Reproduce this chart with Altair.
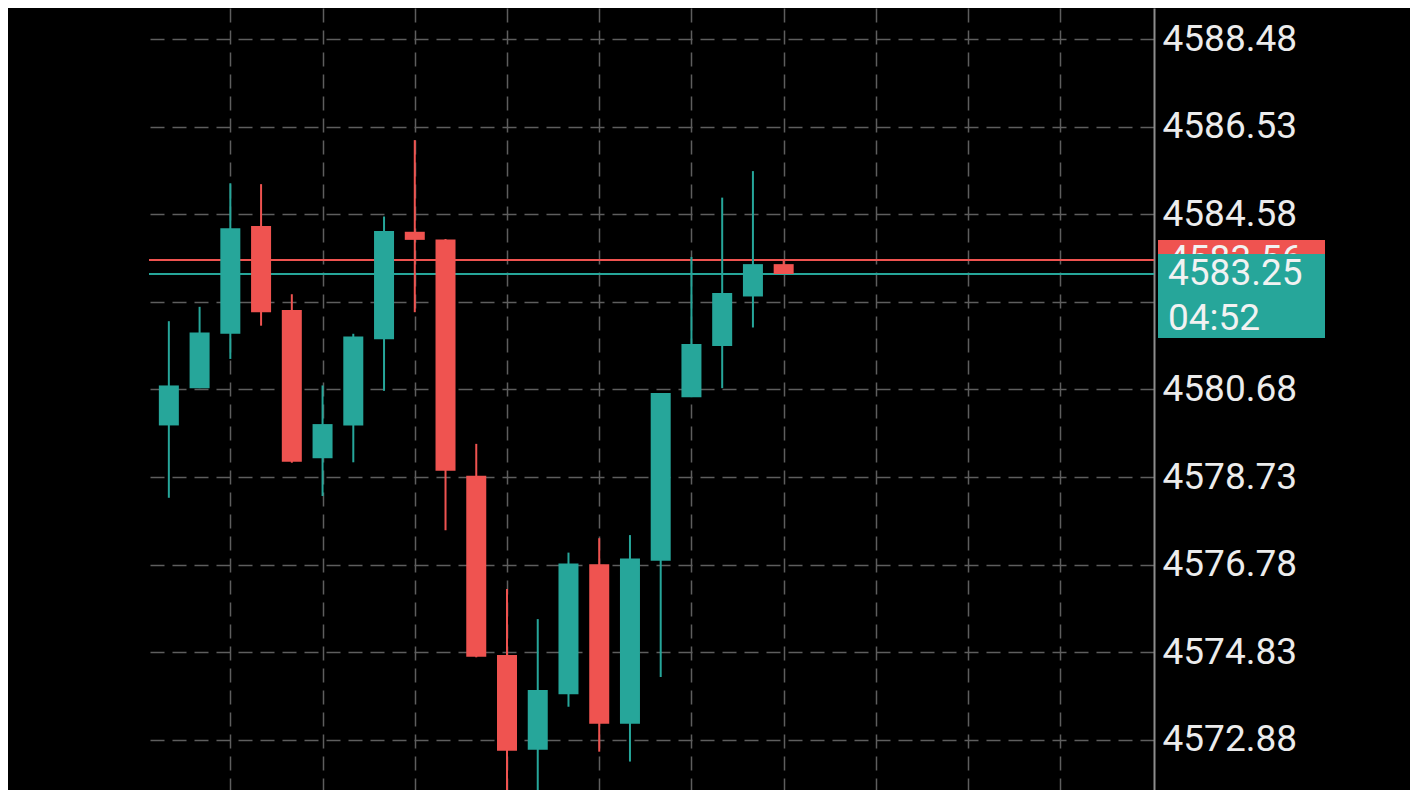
import altair as alt
import pandas as pd

# OHLC, one entry per candle (oldest first)
opens = [4579.88, 4580.71, 4581.92, 4584.32, 4582.45, 4579.15, 4579.88, 4581.80, 4584.19, 4584.02, 4578.76,
         4574.77, 4572.66, 4573.90, 4576.79, 4573.24, 4576.87, 4580.51, 4581.65, 4582.75, 4583.47]
highs = [4582.20, 4582.52, 4585.27, 4585.25, 4582.80, 4580.77, 4581.92, 4584.53, 4586.23, 4584.03, 4579.47,
         4576.24, 4575.57, 4577.05, 4577.37, 4577.44, 4580.60, 4583.63, 4584.95, 4585.54, 4583.58]
lows = [4578.27, 4580.71, 4581.36, 4582.10, 4579.05, 4578.31, 4579.06, 4580.65, 4582.40, 4577.55, 4574.72,
        4571.66, 4571.69, 4573.62, 4572.62, 4572.40, 4574.28, 4580.51, 4580.71, 4582.06, 4583.25]
closes = [4580.77, 4581.95, 4584.27, 4582.40, 4579.07, 4579.91, 4581.86, 4584.21, 4584.01, 4578.87, 4574.73,
          4572.64, 4573.99, 4576.81, 4573.24, 4576.92, 4580.60, 4581.69, 4582.83, 4583.47, 4583.25]

price_ticks = [4572.88, 4574.83, 4576.78, 4578.73, 4580.68, 4582.63, 4584.58, 4586.53, 4588.48]
time_grid = [2, 5, 8, 11, 14, 17, 20, 23, 26, 29]

bid = 4583.25
ask = 4583.56
countdown = "04:52"

UP = "#26a69a"
DOWN = "#ef5350"

candles = pd.DataFrame(
    {"bar": range(len(opens)), "open": opens, "high": highs, "low": lows, "close": closes}
)

x_scale = alt.Scale(domain=[-0.483, 31.884], nice=False, zero=False)
y_scale = alt.Scale(domain=[4571.767, 4589.170], nice=False, zero=False)
candle_color = alt.condition("datum.close >= datum.open", alt.value(UP), alt.value(DOWN))

quotes = pd.DataFrame({"price": [ask, bid], "kind": ["ask", "bid"]})
lines = (
    alt.Chart(quotes)
    .mark_rule(strokeWidth=2)
    .encode(
        y=alt.Y(
            "price:Q",
            scale=y_scale,
            title=None,
            axis=alt.Axis(orient="right", values=price_ticks, format=".2f", labelOverlap=False),
        ),
        color=alt.Color("kind:N", scale=alt.Scale(domain=["ask", "bid"], range=[DOWN, UP]), legend=None),
    )
)

base = alt.Chart(candles).encode(
    x=alt.X(
        "bar:Q",
        scale=x_scale,
        title=None,
        axis=alt.Axis(values=time_grid, grid=True, labels=False, ticks=False, domain=False),
    ),
    color=candle_color,
)
wicks = base.mark_rule(strokeWidth=2).encode(y=alt.Y("low:Q", scale=y_scale), y2="high:Q")
bodies = base.mark_bar(size=20).encode(y=alt.Y("open:Q", scale=y_scale), y2="close:Q")


def price_tag(price, fill, top, bottom):
    return (
        alt.Chart(pd.DataFrame({"price": [price]}))
        .mark_rect(color=fill, yOffset=top, y2Offset=bottom)
        .encode(x=alt.value(1009), x2=alt.value(1176), y=alt.Y("price:Q", scale=y_scale), y2="price:Q")
    )


def tag_text(price, label, dy=0):
    return (
        alt.Chart(pd.DataFrame({"price": [price], "label": [label]}))
        .mark_text(align="left", baseline="middle", dy=dy, font="Roboto", fontSize=37, color="#f2f2f2")
        .encode(x=alt.value(1019), y=alt.Y("price:Q", scale=y_scale), text="label:N")
    )


chart = (
    alt.layer(
        lines,
        wicks,
        bodies,
        price_tag(ask, DOWN, -20, 45),
        tag_text(ask, f"{ask:.2f}"),
        price_tag(bid, UP, -20, 64),
        tag_text(bid, f"{bid:.2f}"),
        tag_text(bid, countdown, dy=45),
    )
    .properties(
        width=1005,
        height=782,
        padding={"left": 141, "top": 0, "right": 256, "bottom": 0},
        autosize=alt.AutoSizeParams(type="none"),
        background="#000000",
    )
    .configure_view(stroke=None)
    .configure_axis(
        gridColor="#5e5e5e",
        gridDash=[14, 8],
        gridWidth=1.5,
        domainColor="#8c8c8c",
        domainWidth=2,
        labelColor="#ececec",
        labelFont="Roboto",
        labelFontSize=37,
        labelPadding=8,
        ticks=False,
    )
)

chart.save("out.html", embed_options={"renderer": "svg", "actions": False})
